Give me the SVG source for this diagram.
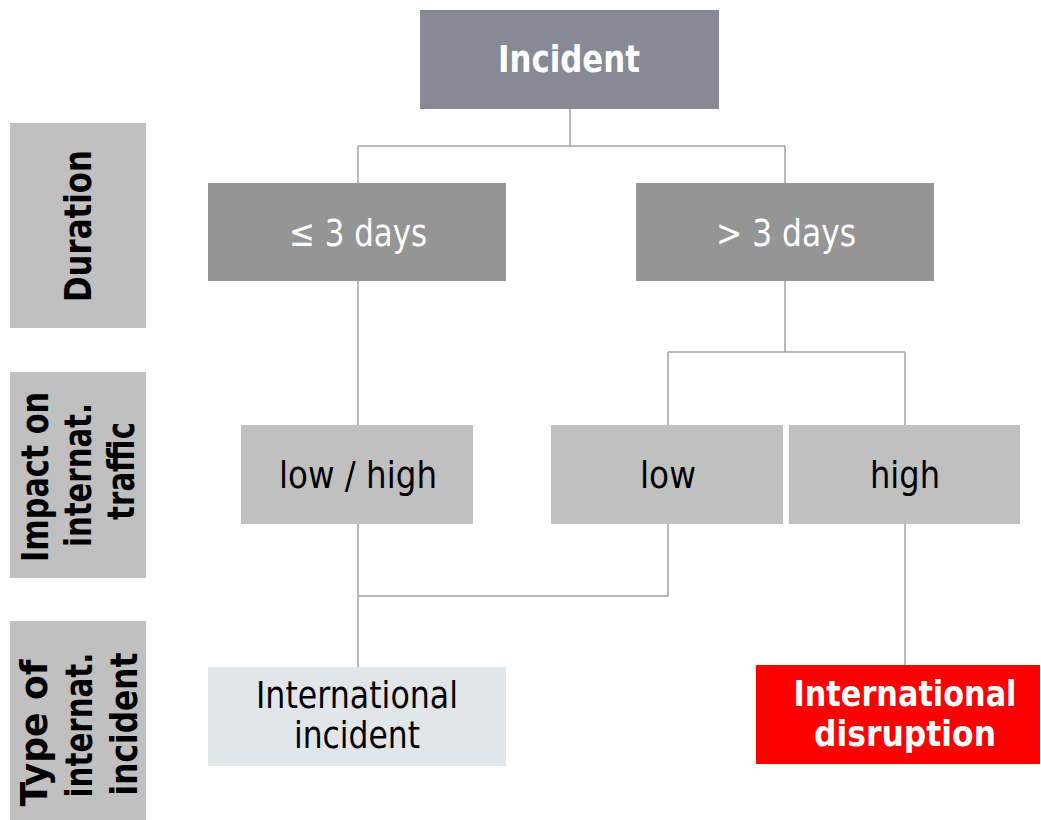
<svg xmlns="http://www.w3.org/2000/svg" width="1041" height="820" viewBox="0 0 1041 820">
<style>
text{font-family:"DejaVu Sans","Liberation Sans",sans-serif;}
.side rect{fill:#c0c0c0;}
.side text{font-size:38px;font-weight:bold;fill:#000;text-anchor:middle;}
.top{fill:#878a95;}
.dur{fill:#959595;}
.imp{fill:#c0c0c0;}
.t{font-size:38px;text-anchor:middle;}
.s{font-size:36px;}
.w{fill:#fff;}
.k{fill:#000;}
.b{font-weight:bold;}
#connectors path{fill:none;stroke:#a3a3a3;stroke-width:1.5;}
</style>
<rect width="1041" height="820" fill="#fff"/>
<g id="connectors">
<path d="M570,109V146M358,146H785M358,146V183M785,146V183"/>
<path d="M358,281V425"/>
<path d="M785,281V352M668,352H905M668,352V425M905,352V425"/>
<path d="M358,524V667M668,524V596H358"/>
<path d="M905,524V665"/>
</g>
<g id="label-duration" class="side">
<rect x="10" y="123" width="136" height="205"/>
<text transform="translate(0,226) rotate(-90)" x="0" y="91" textLength="152" lengthAdjust="spacingAndGlyphs">Duration</text>
</g>
<g id="label-impact" class="side">
<rect x="10" y="372" width="136" height="206"/>
<text transform="translate(0,477) rotate(-90)" x="0" y="48" textLength="170" lengthAdjust="spacingAndGlyphs">Impact on</text>
<text transform="translate(0,475) rotate(-90)" x="0" y="91" textLength="144" lengthAdjust="spacingAndGlyphs">internat.</text>
<text transform="translate(0,471) rotate(-90)" x="0" y="134" textLength="98" lengthAdjust="spacingAndGlyphs">traffic</text>
</g>
<g id="label-type" class="side">
<rect x="10" y="621" width="136" height="199"/>
<text transform="translate(0,733) rotate(-90)" x="0" y="47" textLength="147" lengthAdjust="spacingAndGlyphs">Type of</text>
<text transform="translate(0,725) rotate(-90)" x="0" y="92" textLength="145" lengthAdjust="spacingAndGlyphs">internat.</text>
<text transform="translate(0,724) rotate(-90)" x="0" y="137" textLength="143" lengthAdjust="spacingAndGlyphs">incident</text>
</g>
<g id="incident">
<rect class="top" x="420" y="10" width="299" height="99"/>
<text class="t w b" x="569" y="72" textLength="142" lengthAdjust="spacingAndGlyphs">Incident</text>
</g>
<g id="le3days">
<rect class="dur" x="208" y="183" width="298" height="98"/>
<text class="t w" x="358" y="246" textLength="138" lengthAdjust="spacingAndGlyphs">≤ 3 days</text>
</g>
<g id="gt3days">
<rect class="dur" x="636" y="183" width="298" height="98"/>
<text class="t w" x="786" y="246" textLength="140" lengthAdjust="spacingAndGlyphs">&gt; 3 days</text>
</g>
<g id="lowhigh">
<rect class="imp" x="241" y="425" width="232" height="99"/>
<text class="t k" x="358" y="488" textLength="158" lengthAdjust="spacingAndGlyphs">low / high</text>
</g>
<g id="low">
<rect class="imp" x="551" y="425" width="232" height="99"/>
<text class="t k" x="668" y="488" textLength="56" lengthAdjust="spacingAndGlyphs">low</text>
</g>
<g id="high">
<rect class="imp" x="789" y="425" width="231" height="99"/>
<text class="t k" x="905" y="488" textLength="70" lengthAdjust="spacingAndGlyphs">high</text>
</g>
<g id="intl-incident">
<rect x="208" y="667" width="298" height="99" fill="#e1e6ea"/>
<text class="t k" x="357" y="708" textLength="202" lengthAdjust="spacingAndGlyphs">International</text>
<text class="t k" x="357" y="748" textLength="126" lengthAdjust="spacingAndGlyphs">incident</text>
</g>
<g id="intl-disruption">
<rect x="756" y="665" width="284" height="99" fill="#ff0000"/>
<text class="t s w b" x="905" y="706" textLength="223" lengthAdjust="spacingAndGlyphs">International</text>
<text class="t s w b" x="905" y="746" textLength="182" lengthAdjust="spacingAndGlyphs">disruption</text>
</g>
</svg>
